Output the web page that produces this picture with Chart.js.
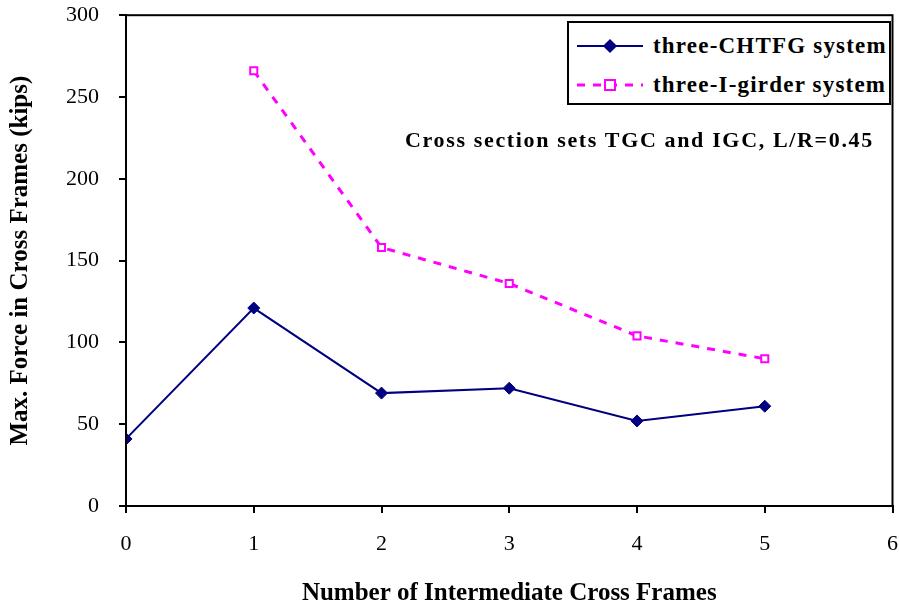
<!DOCTYPE html>
<html>
<head>
<meta charset="utf-8">
<script src="https://cdn.jsdelivr.net/npm/chart.js@4"></script>
<style>
  body { margin: 0; background: #fff; }
  #wrap { position: relative; width: 900px; height: 613px; overflow: hidden; }
  #chart { position: absolute; left: 0; top: -18px; }
  #legend {
    position: absolute; left: 567px; top: 21px; width: 320px; height: 80px;
    border: 2px solid #000; background: #fff;
    font-family: "Liberation Serif", serif; font-weight: bold; font-size: 23px; letter-spacing: 1.2px;
  }
  .row { position: absolute; left: 8px; height: 30px; display: flex; align-items: center; white-space: nowrap; }
  .row svg { margin-right: 10px; }
  #note {
    position: absolute; left: 405px; top: 127px;
    font-family: "Liberation Serif", serif; font-weight: bold; font-size: 22px; letter-spacing: 1.65px; white-space: nowrap;
  }
</style>
</head>
<body>
<div id="wrap">
  <canvas id="chart" width="916" height="631"></canvas>
  <div id="legend">
    <div class="row" style="top:8px">
      <svg width="66" height="20"><line x1="0" y1="10" x2="66" y2="10" stroke="#000080" stroke-width="2"/><rect x="28" y="5" width="10" height="10" fill="#000080" transform="rotate(45 33 10)"/></svg>
      <span>three-CHTFG system</span>
    </div>
    <div class="row" style="top:47px">
      <svg width="66" height="20"><line x1="0" y1="10" x2="66" y2="10" stroke="#ff00ff" stroke-width="3" stroke-dasharray="8 8"/><rect x="28" y="5" width="10" height="10" fill="#fff" stroke="#ff00ff" stroke-width="2"/></svg>
      <span>three-I-girder system</span>
    </div>
  </div>
  <div id="note">Cross section sets TGC and IGC, L/R=0.45</div>
</div>
<script>
const frames = [0, 1, 2, 3, 4, 5];
const chtfgForce = [41, 121, 69, 72, 52, 61];
const iGirderForce = [null, 266, 158, 136, 104, 90];
const xTicks = [0, 1, 2, 3, 4, 5, 6];
const yTicks = [0, 50, 100, 150, 200, 250, 300];

const serif = "'Liberation Serif', 'Times New Roman', serif";

// frame around the plot area
const borderBox = {
  id: 'borderBox',
  afterDraw(chart) {
    const a = chart.chartArea, ctx = chart.ctx;
    ctx.save();
    ctx.strokeStyle = '#000';
    ctx.lineWidth = 2;
    ctx.strokeRect(a.left, a.top, a.right - a.left, a.bottom - a.top);
    ctx.restore();
  }
};

new Chart(document.getElementById('chart'), {
  type: 'line',
  data: {
    datasets: [
      {
        label: 'three-CHTFG system',
        data: frames.map((x, i) => ({ x: x, y: chtfgForce[i] })),
        borderColor: '#000080',
        backgroundColor: '#000080',
        borderWidth: 2,
        pointStyle: 'rectRot',
        pointRadius: 6,
        pointBorderWidth: 1
      },
      {
        label: 'three-I-girder system',
        data: frames.map((x, i) => ({ x: x, y: iGirderForce[i] })).filter(p => p.y !== null),
        borderColor: '#ff00ff',
        backgroundColor: '#ffffff',
        borderWidth: 3,
        borderDash: [8, 8],
        pointStyle: 'rect',
        pointRadius: 5,
        pointBorderWidth: 2
      }
    ]
  },
  options: {
    responsive: false,
    animation: false,
    layout: { padding: { top: 15, right: 9, left: 0, bottom: 0 } },
    plugins: { legend: { display: false }, tooltip: { enabled: false } },
    scales: {
      x: {
        type: 'linear', min: 0, max: 6,
        afterFit: s => { s.height = 107; },
        afterBuildTicks: s => { s.ticks = xTicks.map(v => ({ value: v })); },
        grid: { drawOnChartArea: false, tickLength: 7, color: '#000', lineWidth: 2 },
        border: { color: '#000', width: 2 },
        ticks: { color: '#000', padding: 18, font: { family: serif, size: 22 } },
        title: { display: true, text: 'Number of Intermediate Cross Frames', color: '#000',
                 padding: { top: 0, bottom: 4 }, font: { family: serif, size: 25, weight: 'bold' } }
      },
      y: {
        min: 0, max: 300,
        afterFit: s => { s.width = 126; },
        afterBuildTicks: s => { s.ticks = yTicks.map(v => ({ value: v })); },
        grid: { drawOnChartArea: false, tickLength: 7, color: '#000', lineWidth: 2 },
        border: { color: '#000', width: 2 },
        ticks: { color: '#000', padding: 20, font: { family: serif, size: 22 } },
        title: { display: true, text: 'Max. Force in Cross Frames (kips)', color: '#000',
                 padding: { top: 6, bottom: 0 }, font: { family: serif, size: 25, weight: 'bold' } }
      }
    }
  },
  plugins: [borderBox]
});
</script>
</body>
</html>
